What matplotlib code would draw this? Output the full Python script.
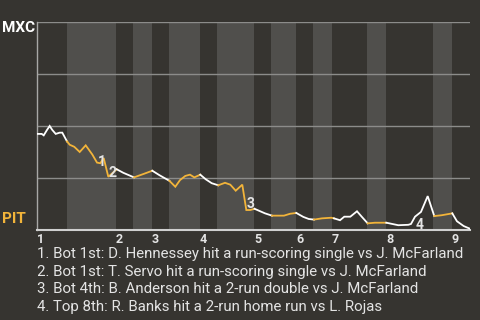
import matplotlib
matplotlib.use('Agg')
import matplotlib.pyplot as plt
import numpy as np

# Colours
bg_col = '#363430'
band_col = '#504f4c'
grid_col = '#8c8c8a'
pit_col = '#f2b43a'
mxc_col = '#ffffff'
text_col = '#e4e4e4'

plt.rcParams['font.family'] = ['Roboto', 'DejaVu Sans']

# Game progress (% of game) and MXC win probability (%)
game_pct = [0.0, 1.09, 1.55, 2.31, 2.93, 3.53, 4.32, 5.24, 5.84,
            6.93, 7.55, 8.61, 9.86, 11.25, 12.77, 13.86, 14.62, 15.40, 16.47,
            18.41, 19.93,
            22.40, 24.55,
            26.63, 28.24, 29.17,
            30.55, 31.94, 33.03, 34.25, 35.33, 36.33,
            37.71, 38.96, 40.35,
            41.87, 43.42, 44.64, 45.89, 47.41, 48.34, 49.26,
            50.23, 52.66,
            54.27, 55.66, 57.04, 58.43,
            59.88, 61.50, 62.75,
            63.97, 65.82, 67.97,
            68.59, 69.98, 70.97, 72.36, 73.90, 74.99,
            76.37, 78.06,
            80.67, 83.44, 85.75, 86.37, 87.30, 88.68, 90.23,
            91.75, 93.46,
            95.91, 96.99, 98.54, 100.0]
mxc_wp = [46.2, 46.2, 45.5, 48.1, 50.0, 48.1, 46.2, 46.8, 46.8,
          42.6, 41.0, 40.0, 37.5, 40.7, 36.3, 32.4, 32.1, 34.6, 25.6,
          29.2, 27.5,
          25.3, 26.9,
          28.5, 26.4, 25.3,
          23.7, 20.8, 24.0, 26.0, 26.6, 25.3,
          26.6, 24.4, 22.5,
          21.5, 22.7, 21.8, 18.9, 21.8, 9.6, 9.6,
          10.2, 8.0,
          6.9, 6.9, 6.9, 7.8,
          8.2, 6.3, 5.3,
          5.0, 5.6, 5.9,
          5.6, 4.7, 6.4, 6.4, 9.0, 6.4,
          3.2, 3.5,
          3.5, 2.3, 2.5, 2.9, 6.4, 8.7, 16.3,
          6.7, 7.1,
          8.0, 4.2, 1.9, 0.6]

# Start of each half inning (% of game)
half_starts = [0.0, 6.86, 18.18, 22.17, 26.56, 30.48, 37.64, 41.57, 50.12,
               54.04, 59.82, 63.74, 68.13, 76.21, 80.60, 91.45, 95.84]
inning_labels = ['1', '2', '3', '4', '5', '6', '7', '8', '9']

# Scoring plays
event_marks = ['1', '2', '3', '4']
event_x = [15.0, 17.4, 49.4, 88.3]
event_y = [32.7, 27.6, 12.4, 2.3]
event_lines = ['1. Bot 1st: D. Hennessey hit a run-scoring single vs J. McFarland',
               '2. Bot 1st: T. Servo hit a run-scoring single vs J. McFarland',
               '3. Bot 4th: B. Anderson hit a 2-run double vs J. McFarland',
               '4. Top 8th: R. Banks hit a 2-run home run vs L. Rojas']


def px_x(x):
	return x / 480.0


def px_y(y):
	return 1 - y / 320.0


fig = plt.figure(figsize=(4.8, 3.2), dpi=100, facecolor=bg_col)
ax = fig.add_axes([px_x(37), px_y(230), px_x(470) - px_x(37), px_y(22) - px_y(230)])
ax.set_facecolor(bg_col)

# Bottom halves shaded
ends = half_starts[1:] + [100.0]
for i, (s, e) in enumerate(zip(half_starts, ends)):
	if i % 2 == 1:
		ax.axvspan(s, e, color=band_col, lw=0, zorder=0)

for v in [25, 50, 75, 100]:
	ax.axhline(v, color=grid_col, lw=1, zorder=1)

# Line coloured by team at bat
half_idx = np.searchsorted(half_starts, game_pct, side='right') - 1
runs = []
start = 0
for i in range(1, len(game_pct) - 1):
	if half_idx[i] % 2 != half_idx[start] % 2:
		runs.append((start, i))
		start = i
runs.append((start, len(game_pct) - 1))
for s, e in runs:
	col = pit_col if half_idx[s] % 2 == 1 else mxc_col
	ax.plot(game_pct[s:e + 1], mxc_wp[s:e + 1], color=col, lw=1.3,
	        solid_joinstyle='miter', zorder=3)

for m, x, y in zip(event_marks, event_x, event_y):
	ax.text(x, y, m, color=text_col, fontsize=10, fontweight='bold',
	        ha='center', va='center', zorder=4)

ax.set_xlim(0, 100)
ax.set_ylim(0, 100)
ax.set_yticks([])
ax.set_xticks(half_starts[::2])
ax.set_xticklabels(inning_labels, ha='left')
ax.tick_params(axis='x', length=0, pad=2, labelsize=9, labelcolor=text_col)
for lab in ax.get_xticklabels():
	lab.set_fontweight('bold')

for side in ['top', 'right']:
	ax.spines[side].set_visible(False)
ax.spines['left'].set_color('#a8a8a6')
ax.spines['left'].set_linewidth(1)
ax.spines['bottom'].set_color('#d0d0d0')
ax.spines['bottom'].set_linewidth(1.5)

fig.text(px_x(2), px_y(21), 'MXC', color=mxc_col, fontsize=11, fontweight='bold',
         ha='left', va='top')
fig.text(px_x(2), px_y(219), 'PIT', color=pit_col, fontsize=11, fontweight='bold',
         ha='left', va='center')

baselines = [258.3, 275.8, 293.4, 311.0]
for line, b in zip(event_lines, baselines):
	fig.text(px_x(37), px_y(b), line, color=text_col, fontsize=10.8,
	         ha='left', va='baseline')

plt.savefig('out.png', dpi=100, facecolor=bg_col)
plt.close()
